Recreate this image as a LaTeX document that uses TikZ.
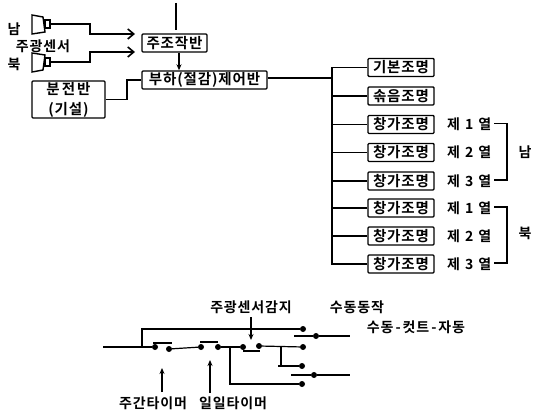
\documentclass[tikz,border=0pt]{standalone}
\usepackage{fontspec}
\setmainfont{Noto Sans CJK KR}[BoldFont={Noto Sans CJK KR Bold},LetterSpace=6]
\usetikzlibrary{positioning,calc,arrows.meta}
\tikzset{
  panel/.style={rectangle,draw,line width=1.4pt,rounded corners=1pt,inner sep=0pt,font=\bfseries\fontsize{14.5}{17}\selectfont},
  lamp/.style={panel,minimum width=66,minimum height=18},
  tag/.style={inner sep=0pt,font=\bfseries\fontsize{14}{17}\selectfont},
  wire/.style={line width=1.2pt},
  dot/.style={circle,fill,inner sep=0pt,minimum size=6},
  sensorhead/.style={rectangle,draw,line width=1.2pt,minimum width=5,minimum height=8,inner sep=0pt},
  barb/.style={-{Straight Barb[length=6pt,width=10pt,line width=1.6pt]}},
  tip/.style={-{Stealth[length=6pt,width=5pt]}},
}
\begin{document}
\begin{tikzpicture}[x=1pt,y=-1pt]
    \useasboundingbox (0,0) rectangle (537,419);

    % Sensors
    \draw[line width=1.4pt] (32,15) -- (43,17) -- (45,32) -- (32,34) -- cycle;
    \node[sensorhead] (headn) at (47.5,24) {};
    \draw[line width=1.4pt] (32,53) -- (45,55) -- (43,70) -- (32,72) -- cycle;
    \node[sensorhead] (heads) at (47.5,62) {};
    \node[tag] (south) at (14,29) {남};
    \node[tag] (north) at (14,64) {북};
    \node[tag] (sensor) at (43,46) {주광센서};

    % Panels
    \node[panel,minimum width=65,minimum height=18] (main) at (174.5,43) {주조작반};
    \node[panel,minimum width=125,minimum height=18] (load) at (204.5,80) {부하(절감)제어반};
    \node[panel,minimum width=73,minimum height=37,align=center] (dist) at (68.5,99.5) {분\hspace{2pt}전\hspace{2pt}반\\[3pt](기설)};
    \coordinate (top) at (176,3);
    \coordinate (topend) at (176,30);

    % Arrows
    \draw[wire] (top) -- (topend);
    \draw[wire,barb] (headn.east) -- (90,24) -- (90,34) -- (135,34);
    \draw[wire,barb] (heads.east) -- (90,62) -- (90,52) -- (135,52);
    \draw[wire,tip] (main.south -| 179,0) -- (load.north -| 179,0);
    \draw[wire] (dist.east) -- (127,99.5) -- (127,80) -- (load.west);

    % Lighting
    \node[lamp] (l1) at (401,67.5) {기본조명};
    \node[lamp] (l2) at (401,96) {솎음조명};
    \node[lamp] (l3) at (401,124.5) {창가조명};
    \node[lamp] (l4) at (401,152.5) {창가조명};
    \node[lamp] (l5) at (401,181) {창가조명};
    \node[lamp] (l6) at (401,208) {창가조명};
    \node[lamp] (l7) at (401,236) {창가조명};
    \node[lamp] (l8) at (401,264) {창가조명};
    \coordinate (trunk) at (332,78);
    \draw[wire] (load.east |- trunk) -- (trunk);
    \draw[wire] (l1.west) -| (trunk);
    \foreach \n in {2,...,7}
        \draw[wire] (l\n.west) -- (l\n.west -| trunk);
    \draw[wire] (l8.west) -| (trunk);

    % Rows
    \foreach \n/\t in {3/1,4/2,5/3,6/1,7/2,8/3}
        \node[tag,anchor=west] (r\n) at (447,0 |- l\n) {제\hspace{5pt}\t\hspace{5pt}열};
    \draw[wire] (r3.east) ++(3,-1) coordinate (b1) -- (507,0 |- b1) |- ($(r5.east)+(3,-1)$);
    \draw[wire] (r6.east) ++(3,-1) coordinate (b2) -- (507,0 |- b2) |- ($(r8.east)+(3,-1)$);
    \node[tag] (rows) at (525,152) {남};
    \node[tag] (rown) at (525,233) {북};

    % Control circuit
    \node[tag] (sense) at (251,307) {주광센서감지};
    \node[tag] (manual) at (357,307) {수동동작};
    \node[tag] (mode) at (416,327) {수동\hspace{2pt}-\hspace{2pt}컷트\hspace{2pt}-\hspace{2pt}자동};
    \node[tag] (dayt) at (153,403) {주간타이머};
    \node[tag] (dailyt) at (233,403) {일일타이머};
    \coordinate (in) at (103,347);
    \coordinate (tap) at (142,347);
    \node[dot] (c1) at (155,347) {};
    \node[dot] (c2) at (169,349) {};
    \node[dot] (c3) at (201,347) {};
    \node[dot] (c4) at (218,347) {};
    \node[dot] (c5) at (243,347) {};
    \node[dot] (c6) at (259,346) {};
    \node[dot] (o1) at (303,329) {};
    \node[dot] (o2) at (303,347) {};
    \node[dot] (o3) at (302,366) {};
    \node[dot] (o4) at (302,384) {};
    \node[dot] (s1) at (316,336) {};
    \node[dot] (s2) at (314,375) {};
    \draw[wire] (in) -- (c1);
    \draw[wire] (tap) |- (o1);
    \draw[wire] (c2) -- (c3);
    \draw[wire] (c4) -- (c5);
    \draw[wire] (c6) -- (o2);
    \draw[wire] (230,347) |- (o4);
    \draw[wire] (281,347) -- (281,366);
    \draw[wire] (278,366) -- (o3);
    \draw[wire] (153,343) -- (172,343);
    \draw[wire] (200,342) -- (218,342);
    \draw[wire] (243,351) -- (260,351);
    \draw[wire] (294,336) -- (s1) -- (350,336);
    \draw[wire] (291,375) -- (s2) -- (350,375);
    \draw[wire,tip] (251,317) -- (251,340);
    \draw[wire,tip] (162,392) -- (162,368);
    \draw[wire,tip] (210,393) -- (210,360);
\end{tikzpicture}
\end{document}
